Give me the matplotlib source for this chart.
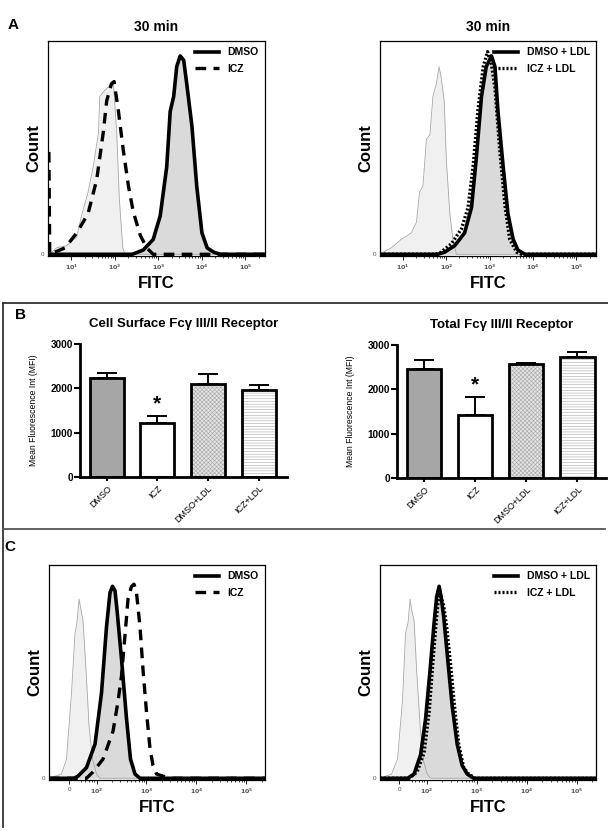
import numpy as np
import matplotlib
matplotlib.use("Agg")
import matplotlib.pyplot as plt
from matplotlib.lines import Line2D

plt.rcParams['font.family'] = ['Liberation Sans', 'DejaVu Sans']
plt.rcParams['font.weight'] = 'bold'

# ---------------- panel A (log10 FITC, height as fraction of axis) ----------------
a1_ctrl_x = [0.47, 0.50, 0.65, 0.88, 1.12, 1.23, 1.38, 1.50, 1.62, 1.65, 1.77, 1.88, 1.96, 2.04, 2.10, 2.18, 2.23, 5.45]
a1_ctrl_y = [0.00, 0.00, 0.03, 0.04, 0.08, 0.18, 0.29, 0.41, 0.57, 0.74, 0.77, 0.79, 0.81, 0.57, 0.26, 0.03, 0.00, 0.00]
a1_dmso_x = [0.47, 2.40, 2.65, 2.88, 3.04, 3.19, 3.27, 3.35, 3.42, 3.50, 3.58, 3.65, 3.77, 3.88, 4.00, 4.12, 4.27, 4.42, 5.45]
a1_dmso_y = [0.00, 0.00, 0.02, 0.07, 0.18, 0.41, 0.67, 0.74, 0.88, 0.93, 0.91, 0.80, 0.60, 0.32, 0.10, 0.03, 0.01, 0.00, 0.00]
a1_icz_x = [0.48, 0.50, 0.85, 1.12, 1.38, 1.58, 1.73, 1.81, 1.92, 1.98, 2.08, 2.19, 2.31, 2.42, 2.58, 2.73, 2.88, 5.45]
a1_icz_y = [0.48, 0.00, 0.03, 0.10, 0.19, 0.35, 0.57, 0.72, 0.80, 0.81, 0.67, 0.49, 0.32, 0.20, 0.09, 0.03, 0.00, 0.00]

a2_ctrl_x = [0.47, 0.54, 0.73, 0.96, 1.04, 1.19, 1.31, 1.38, 1.46, 1.54, 1.62, 1.69, 1.77, 1.83, 1.88, 1.95, 2.00, 2.08, 2.15, 2.23, 5.45]
a2_ctrl_y = [0.00, 0.01, 0.03, 0.07, 0.08, 0.10, 0.15, 0.29, 0.32, 0.54, 0.56, 0.74, 0.80, 0.88, 0.83, 0.72, 0.44, 0.19, 0.07, 0.00, 0.00]
a2_dmso_x = [0.47, 1.80, 1.96, 2.19, 2.42, 2.58, 2.69, 2.81, 2.92, 3.04, 3.12, 3.19, 3.31, 3.42, 3.54, 3.65, 3.81, 5.45]
a2_dmso_y = [0.00, 0.00, 0.01, 0.04, 0.10, 0.22, 0.45, 0.74, 0.88, 0.93, 0.88, 0.67, 0.41, 0.19, 0.07, 0.02, 0.00, 0.00]
a2_icz_x = [0.47, 1.75, 1.88, 2.12, 2.35, 2.50, 2.62, 2.73, 2.85, 2.95, 3.04, 3.12, 3.23, 3.35, 3.46, 3.62, 3.73, 5.45]
a2_icz_y = [0.00, 0.00, 0.01, 0.05, 0.12, 0.22, 0.42, 0.68, 0.88, 0.95, 0.89, 0.78, 0.49, 0.23, 0.07, 0.01, 0.00, 0.00]

# ---------------- panel C (biexponential FITC, decade units) ----------------
c1_ctrl_x = [1.05, 1.30, 1.40, 1.50, 1.57, 1.61, 1.65, 1.69, 1.73, 1.79, 1.85, 1.92, 2.00, 2.07, 5.37]
c1_ctrl_y = [0.00, 0.02, 0.09, 0.40, 0.68, 0.73, 0.84, 0.79, 0.74, 0.51, 0.25, 0.09, 0.02, 0.00, 0.00]
c1_dmso_x = [1.05, 1.55, 1.63, 1.80, 1.97, 2.10, 2.20, 2.27, 2.32, 2.37, 2.41, 2.50, 2.60, 2.68, 2.77, 2.87, 5.37]
c1_dmso_y = [0.00, 0.00, 0.01, 0.05, 0.16, 0.40, 0.71, 0.87, 0.90, 0.88, 0.79, 0.56, 0.28, 0.09, 0.02, 0.00, 0.00]
c1_icz_x = [1.05, 1.80, 1.93, 2.13, 2.33, 2.43, 2.50, 2.57, 2.63, 2.70, 2.75, 2.80, 2.87, 2.93, 3.00, 3.07, 3.13, 3.20, 3.33, 3.53, 5.37]
c1_icz_y = [0.00, 0.00, 0.03, 0.09, 0.22, 0.36, 0.48, 0.67, 0.84, 0.90, 0.91, 0.87, 0.71, 0.51, 0.31, 0.14, 0.06, 0.02, 0.01, 0.00, 0.00]

c2_ctrl_x = [1.07, 1.30, 1.42, 1.52, 1.58, 1.63, 1.67, 1.70, 1.75, 1.80, 1.87, 1.93, 2.01, 2.08, 5.38]
c2_ctrl_y = [0.00, 0.02, 0.09, 0.37, 0.68, 0.73, 0.84, 0.79, 0.74, 0.51, 0.25, 0.09, 0.02, 0.00, 0.00]
c2_dmso_x = [1.07, 1.62, 1.75, 1.88, 1.98, 2.07, 2.15, 2.20, 2.25, 2.29, 2.34, 2.42, 2.51, 2.61, 2.71, 2.81, 2.94, 5.38]
c2_dmso_y = [0.00, 0.00, 0.02, 0.11, 0.28, 0.51, 0.73, 0.85, 0.90, 0.85, 0.76, 0.56, 0.34, 0.16, 0.06, 0.02, 0.00, 0.00]
c2_icz_x = [1.07, 1.65, 1.81, 1.95, 2.05, 2.13, 2.20, 2.25, 2.29, 2.34, 2.40, 2.48, 2.56, 2.64, 2.74, 2.84, 2.97, 5.38]
c2_icz_y = [0.00, 0.00, 0.03, 0.12, 0.31, 0.56, 0.76, 0.87, 0.85, 0.81, 0.71, 0.53, 0.33, 0.16, 0.05, 0.02, 0.00, 0.00]

# ---------------- panel B (MFI bars) ----------------
groups = ['DMSO', 'ICZ', 'DMSO+LDL', 'ICZ+LDL']
surface_mfi = [2225, 1215, 2105, 1965]
surface_err = [130, 150, 220, 100]
total_mfi = [2455, 1425, 2565, 2735]
total_err = [210, 405, 30, 110]

fig = plt.figure(figsize=(6.08, 8.31), dpi=100)


def px_axes(x0, y0, x1, y1):
    return fig.add_axes([x0 / 608, 1 - y1 / 831, (x1 - x0) / 608, (y1 - y0) / 831])


def histo(ax, ctrl, main, other, other_style, labels, xlim, ticks, ticklabels):
    ax.fill_between(ctrl[0], ctrl[1], color='#f0f0f0', lw=0)
    ax.plot(ctrl[0], ctrl[1], color='#a8a8a8', lw=0.6)
    ax.fill_between(main[0], main[1], color='#dadada', lw=0)
    if other_style == 'dashed':
        h2, = ax.plot(other[0], other[1], color='black', lw=2.4, dashes=(3.2, 2.2), zorder=3)
        h1, = ax.plot(main[0], main[1], color='black', lw=2.6, zorder=4, solid_joinstyle='round')
    else:
        h1, = ax.plot(main[0], main[1], color='black', lw=2.6, zorder=3, solid_joinstyle='round')
        h2, = ax.plot(other[0], other[1], color='black', lw=2.4, dashes=(0.6, 0.6), zorder=4)
    ax.set_xlim(*xlim)
    ax.set_ylim(-0.008, 1)
    ax.set_xticks(ticks)
    ax.set_xticklabels(ticklabels, fontsize=4.5, color='#555555', fontweight='normal')
    minors = [d + np.log10(k) for d in range(0, 6) for k in range(2, 10)]
    minors = [m for m in minors if xlim[0] < m < xlim[1] and m > ticks[0] + 0.2]
    ax.set_xticks(minors, minor=True)
    ax.tick_params(axis='x', which='major', length=3, width=0.6, pad=2)
    ax.tick_params(axis='x', which='minor', length=1.5, width=0.5)
    ax.set_yticks([0])
    ax.set_yticklabels(['0'], fontsize=4.5, color='#555555', fontweight='normal')
    ax.tick_params(axis='y', length=0, pad=3)
    for s in ax.spines.values():
        s.set_linewidth(0.9)
    ax.set_ylabel('Count', fontsize=12, fontweight='bold', labelpad=-1)
    ax.set_xlabel('FITC', fontsize=12, fontweight='bold', labelpad=3)
    ax.legend([h1, h2], labels, loc='upper right', frameon=False, handlelength=2.3,
              labelspacing=0.6, borderaxespad=0.2, handletextpad=0.8,
              prop={'weight': 'bold', 'size': 7.5})


log_ticks = [1, 2, 3, 4, 5]
log_labels = [r'$10^{1}$', r'$10^{2}$', r'$10^{3}$', r'$10^{4}$', r'$10^{5}$']
bi_ticks = [1.45, 2, 3, 4, 5]
bi_labels = ['0', r'$10^{2}$', r'$10^{3}$', r'$10^{4}$', r'$10^{5}$']

ax = px_axes(48, 41, 265, 256)
histo(ax, (a1_ctrl_x, a1_ctrl_y), (a1_dmso_x, a1_dmso_y), (a1_icz_x, a1_icz_y), 'dashed',
      ['DMSO', 'ICZ'], (0.46, 5.45), log_ticks, log_labels)
ax.set_title('30 min', fontsize=10, fontweight='bold', pad=7)

ax = px_axes(380, 41, 596, 256)
histo(ax, (a2_ctrl_x, a2_ctrl_y), (a2_dmso_x, a2_dmso_y), (a2_icz_x, a2_icz_y), 'dotted',
      ['DMSO + LDL', 'ICZ + LDL'], (0.47, 5.45), log_ticks, log_labels)
ax.set_title('30 min', fontsize=10, fontweight='bold', pad=7)

ax = px_axes(49, 565, 265, 780)
histo(ax, (c1_ctrl_x, c1_ctrl_y), (c1_dmso_x, c1_dmso_y), (c1_icz_x, c1_icz_y), 'dashed',
      ['DMSO', 'ICZ'], (1.05, 5.37), bi_ticks, bi_labels)

ax = px_axes(380, 565, 596, 780)
histo(ax, (c2_ctrl_x, c2_ctrl_y), (c2_dmso_x, c2_dmso_y), (c2_icz_x, c2_icz_y), 'dotted',
      ['DMSO + LDL', 'ICZ + LDL'], (1.07, 5.38), bi_ticks, bi_labels)


def bars(ax, vals, errs, title):
    x = np.arange(len(groups))
    faces = ['#a6a6a6', 'white', '#e2e2e2', 'white']
    hatches = [None, None, 'xxxxxxxx', '------']
    ax.errorbar(x, vals, yerr=[[0] * 4, errs], fmt='none', ecolor='black',
                elinewidth=1.4, capsize=7, capthick=1.4, zorder=1)
    for i in range(4):
        ax.bar(x[i], vals[i], width=0.67, color=faces[i], hatch=hatches[i],
               edgecolor='#a8a8a8', lw=0, zorder=2)
        ax.bar(x[i], vals[i], width=0.67, fill=False, edgecolor='black', lw=2, zorder=3)
    ax.text(1, vals[1] + errs[1] + 60, '*', ha='center', va='bottom', fontsize=15, fontweight='bold')
    ax.set_xlim(-0.53, 3.56)
    ax.set_ylim(0, 3000)
    ax.set_yticks([0, 1000, 2000, 3000])
    ax.tick_params(axis='y', labelsize=7.2, width=1.5, length=4, pad=1)
    ax.set_xticks(x)
    ax.set_xticklabels(groups, rotation=45, ha='right', rotation_mode='anchor',
                       fontsize=6.5, fontweight='normal')
    ax.tick_params(axis='x', width=1.5, length=3, pad=2)
    for lab in ax.get_yticklabels():
        lab.set_fontweight('bold')
    ax.spines['top'].set_visible(False)
    ax.spines['right'].set_visible(False)
    ax.spines['left'].set_linewidth(2)
    ax.spines['bottom'].set_linewidth(2)
    ax.set_ylabel('Mean Fluorescence Int (MFI)', fontsize=6.2, fontweight='normal', labelpad=9)
    ax.set_title(title, fontsize=9.5, fontweight='bold', pad=12)


plt.rcParams['hatch.linewidth'] = 0.4
ax = px_axes(80, 344, 287, 477)
bars(ax, surface_mfi, surface_err, 'Cell Surface Fc\u03b3 III/II Receptor')
ax = px_axes(397, 345, 606, 478)
bars(ax, total_mfi, total_err, 'Total Fc\u03b3 III/II Receptor')

# panel frame lines and letters
fig.add_artist(Line2D([3 / 608, 1.0], [1 - 303 / 831] * 2, color='#333333', lw=1.3))
fig.add_artist(Line2D([3 / 608, 3 / 608], [1 - 303 / 831, 1 - 827 / 831], color='#333333', lw=1.3))
fig.add_artist(Line2D([3 / 608, 605 / 608], [1 - 529 / 831] * 2, color='#555555', lw=1.3))
fig.text(13 / 608, 1 - 25 / 831, 'A', fontsize=11, fontweight='bold', ha='center', va='center')
fig.text(20 / 608, 1 - 315 / 831, 'B', fontsize=11, fontweight='bold', ha='center', va='center')
fig.text(10 / 608, 1 - 547 / 831, 'C', fontsize=11, fontweight='bold', ha='center', va='center')

fig.savefig('out.png', dpi=100)
